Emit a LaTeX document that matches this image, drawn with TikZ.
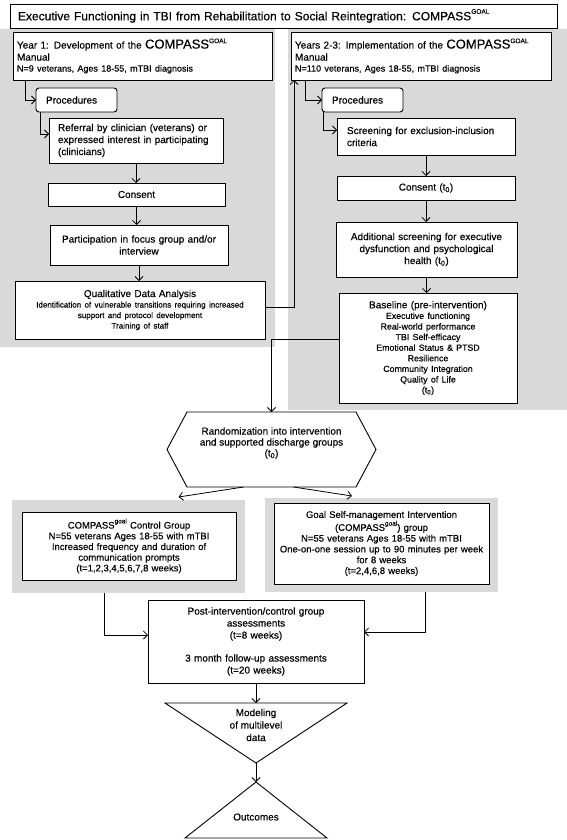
\documentclass[tikz,border=0pt]{standalone}
\usepackage{fontspec}
\setmainfont{Liberation Sans}[FakeBold=0.35]
\usetikzlibrary{arrows.meta,calc}
\newcommand\fs[2]{\fontsize{#1}{#2}\selectfont}
\newcommand\sgoal[1]{\raisebox{0.55em}{\fs{6.5}{7}#1}}
\newcommand\tzero{(t\textsubscript{0})}
\begin{document}
\begin{tikzpicture}[x=1pt,y=-1pt,
 bx/.style={draw, fill=white, line width=0.9pt, inner xsep=4pt, inner ysep=1pt, outer sep=0pt, anchor=north west, align=center, font=\fs{10}{12}},
 panel/.style={fill=gray!30, draw=none, anchor=north west, inner sep=0pt, outer sep=0pt},
 arr/.style={line width=0.8pt, -{Straight Barb[length=4pt,width=8pt]}},
 shp/.style={inner sep=0pt, outer sep=0pt},
 outl/.style={line width=0.9pt},
]
\useasboundingbox (0,0) rectangle (567,840);
% gray panels
\node[panel, minimum width=275pt, minimum height=318pt] (lpanel) at (0,29) {};
\node[panel, minimum width=279pt, minimum height=381pt] (rpanel) at (288,29) {};
% title
\node[bx, align=left, text width=531pt, minimum width=547pt, minimum height=24pt, inner xsep=8pt, font=\fs{12}{14}] (title) at (10,4) {Executive Functioning in TBI from Rehabilitation to Social Reintegration: COMPASS\sgoal{GOAL}};
% left column
\node[bx, align=left, text width=251pt, minimum width=259pt, minimum height=48pt] (y1) at (13,32) {Year 1: Development of the {\fs{13}{14}COMPASS}\sgoal{GOAL}\\Manual\par{\fs{9}{11}N=9 veterans, Ages 18-55, mTBI diagnosis\par}};
\node[bx, rounded corners=3pt, align=left, inner xsep=10pt, text width=61pt, minimum width=81pt, minimum height=24pt] (proc1) at (36,88) {Procedures};
\node[bx, align=left, inner xsep=9pt, text width=156pt, minimum width=174pt, minimum height=45pt] (ref) at (49,118) {Referral by clinician (veterans) or\\expressed interest in participating\\(clinicians)};
\node[bx, text width=169pt, minimum width=177pt, minimum height=23pt] (cons1) at (48,183) {Consent};
\node[bx, text width=170pt, minimum width=178pt, minimum height=40pt] (part) at (50,225) {Participation in focus group and/or\\interview};
\node[bx, text width=242pt, minimum width=250pt, minimum height=58pt] (qual) at (15,281) {Qualitative Data Analysis\par{\fs{8}{10.5}Identification of vulnerable transitions requiring increased\\support and protocol development\\Training of staff\par}};
% right column
\node[bx, align=left, text width=252pt, minimum width=260pt, minimum height=48pt] (y2) at (291,32) {Years 2-3: Implementation of the {\fs{13}{14}COMPASS}\sgoal{GOAL}\\Manual\par{\fs{9}{11}N=110 veterans, Ages 18-55, mTBI diagnosis\par}};
\node[bx, rounded corners=3pt, align=left, inner xsep=10pt, text width=61pt, minimum width=81pt, minimum height=24pt] (proc2) at (322,88) {Procedures};
\node[bx, align=left, inner xsep=10pt, text width=158pt, minimum width=178pt, minimum height=37pt] (scr) at (337,118) {Screening for exclusion-inclusion\\criteria};
\node[bx, text width=170pt, minimum width=178pt, minimum height=24pt] (cons2) at (337,176) {Consent \tzero};
\node[bx, text width=173pt, minimum width=181pt, minimum height=55pt] (add) at (336,222) {Additional screening for executive\\dysfunction and psychological\\health \tzero};
\node[bx, text width=170pt, minimum width=178pt, minimum height=110pt] (base) at (339,293) {Baseline (pre-intervention)\par{\fs{8.8}{10.6}Executive functioning\\Real-world performance\\TBI Self-efficacy\\Emotional Status \& PTSD\\Resilience\\Community Integration\\Quality of Life\\\tzero\par}};
% hexagon
\node[shp, minimum width=209pt, minimum height=75pt] (rand) at (271.5,449.5) {};
\draw[outl] ($(rand.north west)+(20,0)$) -- ($(rand.north east)+(-20,0)$) -- (rand.east) -- ($(rand.south east)+(-20,0)$) -- ($(rand.south west)+(20,0)$) -- (rand.west) -- cycle;
\node[align=center, font=\fs{10}{11}] (randtxt) at (271.5,443) {Randomization into intervention\\and supported discharge groups\\\tzero};
% groups
\node[panel, minimum width=233pt, minimum height=93pt] (ctrlbg) at (12,500) {};
\node[panel, minimum width=233pt, minimum height=94pt] (goalbg) at (265,498) {};
\node[bx, text width=206pt, minimum width=214pt, minimum height=68pt, font=\fs{9.5}{10.7}] (ctrl) at (22,512) {COMPASS\sgoal{goal} Control Group\\N=55 veterans Ages 18-55 with mTBI\\Increased frequency and duration of\\communication prompts\\(t=1,2,3,4,5,6,7,8 weeks)};
\node[bx, text width=207pt, minimum width=215pt, minimum height=81pt, font=\fs{9.5}{10.8}] (goal) at (274,503) {Goal Self-management Intervention\\(COMPASS\sgoal{goal}) group\\N=55 veterans Ages 18-55 with mTBI\\One-on-one session up to 90 minutes per week\\for 8 weeks\\(t=2,4,6,8 weeks)};
% post
\node[bx, text width=208pt, minimum width=216pt, minimum height=83pt] (post) at (148,600) {Post-intervention/control group\\assessments\\(t=8 weeks)\\[11pt]3 month follow-up assessments\\(t=20 weeks)};
% triangles
\node[shp, minimum width=182pt, minimum height=60pt, anchor=north] (model) at (256,703) {};
\draw[outl] (model.north west) -- (model.north east) -- (model.south) -- cycle;
\node[align=center, font=\fs{10}{12.5}] (modeltxt) at (256,725) {Modeling\\of multilevel\\data};
\node[shp, minimum width=142pt, minimum height=56pt, anchor=south] (out) at (256,838) {};
\draw[outl] (out.south west) -- (out.south east) -- (out.north) -- cycle;
\node[font=\fs{10}{12}] (outtxt) at (256,817) {Outcomes};
% connectors
\draw[arr] ($(y1.south west)+(12,0)$) |- (proc1.west);
\draw[arr] ($(proc1.south west)+(4,0)$) |- ($(ref.north west)+(0,16)$);
\draw[arr] (ref.south) -- (ref.south |- cons1.north);
\draw[arr] (cons1.south) -- (cons1.south |- part.north);
\draw[arr] (part.south) -- (part.south |- qual.north);
\draw[arr] ($(qual.north east)+(0,26)$) -| ($(y2.south west)+(3,0)$);
\draw[arr] ($(y2.south west)+(14,0)$) |- (proc2.west);
\draw[arr] ($(proc2.south west)+(1,0)$) |- ($(scr.north west)+(0,12)$);
\draw[arr] (scr.south) -- (scr.south |- cons2.north);
\draw[arr] (cons2.south) -- (cons2.south |- add.north);
\draw[arr] (add.south) -- (add.south |- base.north);
\draw[arr] ($(base.north west)+(0,46)$) -| (rand.north);
\draw[arr] ($(rand.south)+(-28,0)$) -- ($(ctrlbg.north)+(50,-3)$);
\draw[arr] ($(rand.south)+(22,0)$) -- ($(goalbg.north)+(-29.5,-2)$);
\draw[arr] ($(ctrlbg.south west)+(92,0)$) |- ($(post.north west)+(0,35)$);
\draw[arr] ($(goalbg.south west)+(160,0)$) |- ($(post.north east)+(0,32)$);
\draw[arr] (post.south) -- (model.north);
\draw[arr] (model.south) -- (out.north);
\end{tikzpicture}
\end{document}
